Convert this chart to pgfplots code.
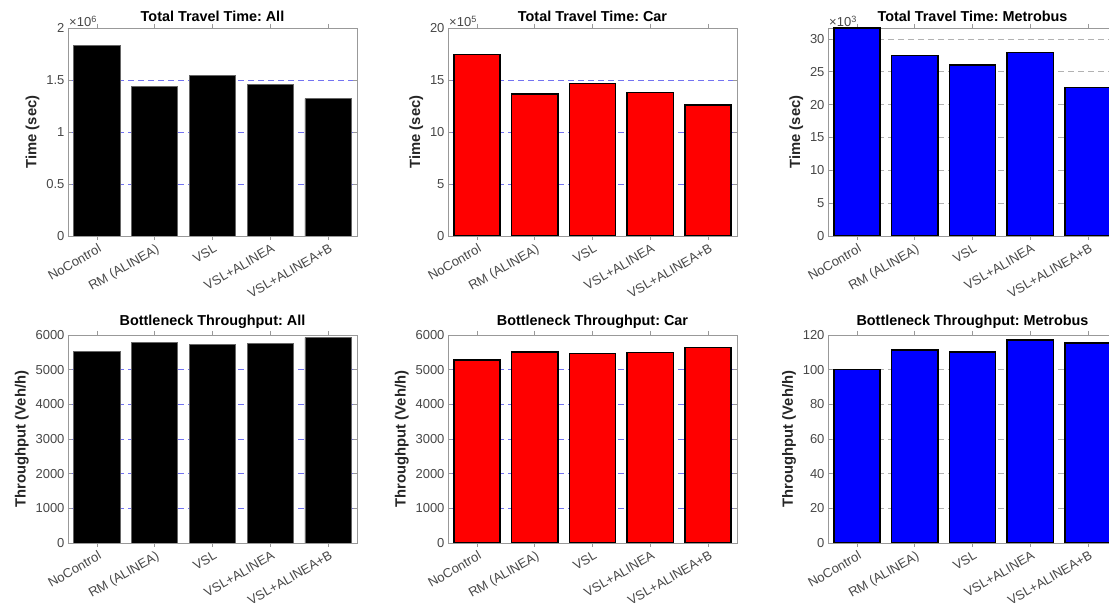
\documentclass[border=0pt]{standalone}
\usepackage{pgfplots}
\pgfplotsset{compat=1.18}
\usepackage{fontspec}
\setmainfont{Liberation Sans}
\frenchspacing
\definecolor{axgray}{rgb}{0.6,0.6,0.6}
\definecolor{tickgray}{rgb}{0.28,0.28,0.28}
\definecolor{gridblue}{rgb}{0.45,0.45,0.95}
\definecolor{gridgray}{rgb}{0.7,0.7,0.7}
\pgfplotsset{
  mystyle/.style={
    scale only axis, width=289pt, height=208pt, anchor=south west,
    xmin=0.5, xmax=5.5, ymin=0,
    xtick={1,2,3,4,5},
    xticklabels={NoControl,RM (ALINEA),VSL,VSL+ALINEA,VSL+ALINEA+B},
    xticklabel style={rotate=30, anchor=north east, font=\fontsize{13}{15}\selectfont, text=tickgray, inner sep=1pt, yshift=-2pt},
    yticklabel style={font=\fontsize{13}{15}\selectfont, text=tickgray},
    /pgf/number format/assume math mode=true,
    /pgf/number format/1000 sep={},
    axis line style={axgray, line width=0.6pt},
    tick style={axgray, line width=0.6pt},
    major tick length=4pt,
    ymajorgrids,
    title style={font=\bfseries\fontsize{14.4}{16}\selectfont, yshift=-3pt},
    ylabel style={font=\bfseries\fontsize{14.8}{16}\selectfont, text=black!85},
    ybar, bar width=0.8,
    ytick scale label code/.code={\fontsize{13}{15}\selectfont\color{tickgray}×10\textsuperscript{##1}},
    every y tick scale label/.style={at={(rel axis cs:0,1)}, anchor=south west, inner sep=1pt},
  },
  bluegrid/.style={major grid style={dash pattern=on 6pt off 4pt, color=gridblue, line width=0.6pt}},
  graygrid/.style={major grid style={dash pattern=on 6pt off 4pt, color=gridgray, line width=0.6pt}},
  blackbar/.style={fill=black, draw=black!60, line width=0.8pt},
  redbar/.style={fill=red, draw=black, line width=1.5pt},
  bluebar/.style={fill=blue, draw=black, line width=1.5pt},
}
\begin{document}
\begin{tikzpicture}
% Top row
\begin{axis}[mystyle, bluegrid, at={(68pt,371pt)},
  ymax=2000000, ytick={0,500000,1000000,1500000,2000000},
  scaled y ticks=base 10:-6,
  title={Total Travel Time: All}, ylabel={Time (sec)}]
\addplot[blackbar] coordinates {(1,1830000) (2,1440000) (3,1540000) (4,1455000) (5,1320000)};
\end{axis}
\begin{axis}[mystyle, bluegrid, at={(448pt,371pt)},
  ymax=2000000, ytick={0,500000,1000000,1500000,2000000},
  scaled y ticks=base 10:-5,
  title={Total Travel Time: Car}, ylabel={Time (sec)}]
\addplot[redbar] coordinates {(1,1747000) (2,1363000) (3,1465000) (4,1378000) (5,1260000)};
\end{axis}
\begin{axis}[mystyle, graygrid, at={(828pt,371pt)},
  ymax=31670, ytick={0,5000,10000,15000,20000,25000,30000},
  scaled y ticks=base 10:-3,
  title={Total Travel Time: Metrobus}, ylabel={Time (sec)}]
\addplot[bluebar] coordinates {(1,31670) (2,27460) (3,26000) (4,27970) (5,22640)};
\end{axis}
% Bottom row
\begin{axis}[mystyle, bluegrid, at={(68pt,64pt)},
  ymax=6000, ytick={0,1000,2000,3000,4000,5000,6000},
  scaled y ticks=false,
  title={Bottleneck Throughput: All}, ylabel={Throughput (Veh/h)}]
\addplot[blackbar] coordinates {(1,5538) (2,5778) (3,5731) (4,5760) (5,5922)};
\end{axis}
\begin{axis}[mystyle, bluegrid, at={(448pt,64pt)},
  ymax=6000, ytick={0,1000,2000,3000,4000,5000,6000},
  scaled y ticks=false,
  title={Bottleneck Throughput: Car}, ylabel={Throughput (Veh/h)}]
\addplot[redbar] coordinates {(1,5278) (2,5509) (3,5460) (4,5489) (5,5645)};
\end{axis}
\begin{axis}[mystyle, graygrid, at={(828pt,64pt)},
  ymax=120, ytick={0,20,40,60,80,100,120},
  scaled y ticks=false,
  title={Bottleneck Throughput: Metrobus}, ylabel={Throughput (Veh/h)}]
\addplot[bluebar] coordinates {(1,100) (2,111.2) (3,110.2) (4,117.1) (5,115.4)};
\end{axis}
\pgfresetboundingbox
\useasboundingbox (0,0) rectangle (1109pt,607pt);
\end{tikzpicture}
\end{document}
